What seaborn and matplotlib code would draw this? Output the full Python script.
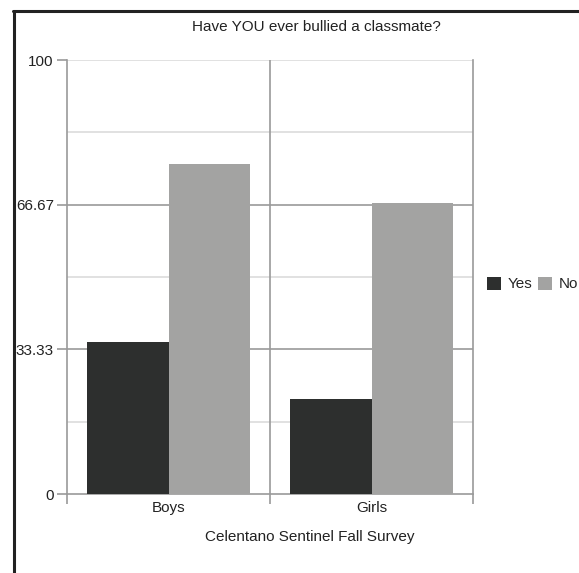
import matplotlib
matplotlib.use("Agg")
import matplotlib.pyplot as plt
import seaborn as sns
import pandas as pd
from matplotlib.lines import Line2D
from matplotlib.patches import Patch

groups = ["Boys", "Girls"]
answers = ["Yes", "No"]
yes_values = [35, 22]
no_values = [76, 67]
ytick_values = [0, 33.33, 66.67, 100]
ytick_labels = ["0", "33.33", "66.67", "100"]
title = "Have YOU ever bullied a classmate?"
xlabel = "Celentano Sentinel Fall Survey"

df = pd.DataFrame({
    "group": groups * 2,
    "answer": ["Yes"] * len(groups) + ["No"] * len(groups),
    "value": yes_values + no_values,
})

sns.set_theme(style="white")
FS = 11
plt.rcParams["font.family"] = ["Liberation Sans", "DejaVu Sans"]

W, H = 579, 573
fig = plt.figure(figsize=(W / 100, H / 100), dpi=100)
ax = fig.add_axes([67 / W, 1 - 494 / H, (473 - 67) / W, (494 - 60) / H])

colors = {"Yes": "#2d2f2e", "No": "#a3a3a2"}
sns.barplot(data=df, x="group", y="value", hue="answer", hue_order=answers,
            order=groups, palette=colors, width=0.8, saturation=1,
            ax=ax, legend=False, linewidth=0, zorder=3)

ax.set_xlim(-0.5, 1.5)
ax.set_ylim(0, 100)

for v in [16.67, 50, 83.33, 100]:
    ax.axhline(v, color="#dcdcdc", lw=1.2, zorder=1)
for v in [33.33, 66.67]:
    ax.axhline(v, color="#9a9a9a", lw=1.2, zorder=1)
ax.axvline(0.5, color="#9a9a9a", lw=1.2, zorder=1)

for s in ["left", "bottom", "right"]:
    ax.spines[s].set_color("#9a9a9a")
    ax.spines[s].set_linewidth(1.2)
ax.spines["top"].set_visible(False)

ax.set_yticks(ytick_values)
ax.set_yticklabels(ytick_labels, fontsize=FS, color="#222222")
ax.tick_params(axis="y", length=7, width=1.2, color="#9a9a9a", pad=2.5, left=True)
ax.set_xticks([0, 1])
ax.set_xticklabels(groups, fontsize=FS, color="#222222")
ax.tick_params(axis="x", length=0, pad=5)
ax.set_xticks([-0.5, 0.5, 1.5], minor=True)
ax.tick_params(axis="x", which="minor", length=7, width=1.2, color="#9a9a9a", bottom=True)
ax.set_xlabel("")
ax.set_ylabel("")

fig.text(316 / W, 1 - 27 / H, title, ha="center", va="center", fontsize=FS, color="#222222")
fig.text(310 / W, 1 - 537 / H, xlabel, ha="center", va="center", fontsize=FS, color="#222222")

handles = [Patch(facecolor=colors[a], edgecolor="none") for a in answers]
fig.legend(handles, answers, loc="center left", bbox_to_anchor=(487 / W, 1 - 284 / H),
           ncol=2, frameon=False, fontsize=FS, handlelength=0.92, handleheight=0.92,
           handletextpad=0.45, columnspacing=0.35, borderaxespad=0, borderpad=0)

fig.add_artist(Line2D([13 / W, 1.0], [1 - 10.5 / H, 1 - 10.5 / H], color="#222222", lw=2.2,
                      transform=fig.transFigure))
fig.add_artist(Line2D([13.5 / W, 13.5 / W], [0, 1 - 10.5 / H], color="#222222", lw=2.2,
                      transform=fig.transFigure))

fig.savefig("out.png", dpi=100)
